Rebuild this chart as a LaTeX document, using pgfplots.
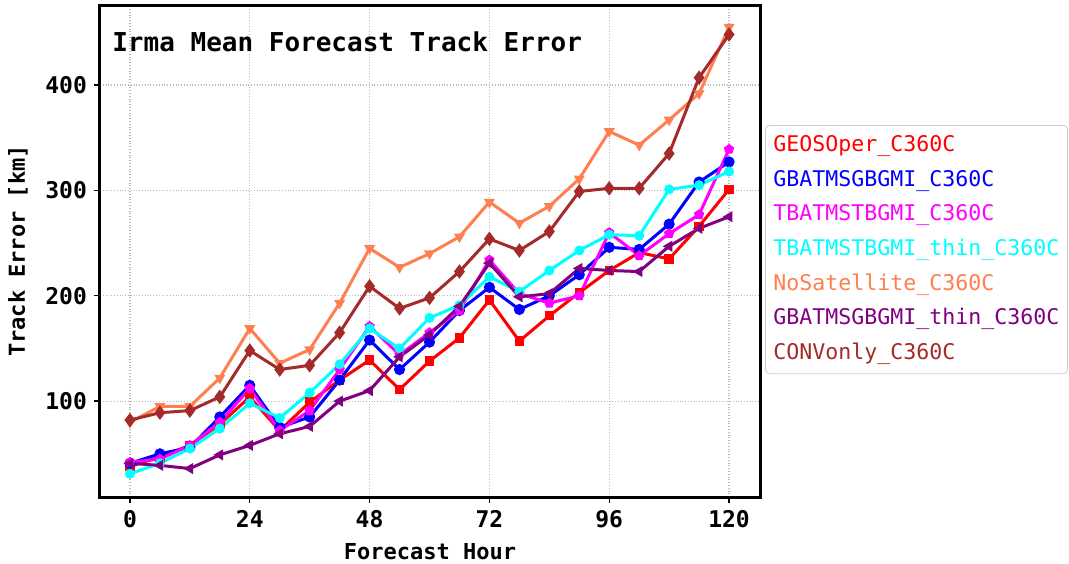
\documentclass[border=0pt]{standalone}
\usepackage{fontspec}
\setmainfont{DejaVu Sans Mono}
\usepackage{pgfplots}
\pgfplotsset{compat=1.18}
\definecolor{cRed}{RGB}{255,0,0}
\definecolor{cBlue}{RGB}{0,0,255}
\definecolor{cMagenta}{RGB}{255,0,255}
\definecolor{cCyan}{RGB}{0,255,255}
\definecolor{cCoral}{RGB}{255,127,80}
\definecolor{cPurple}{RGB}{128,0,128}
\definecolor{cBrown}{RGB}{165,42,42}
\begin{document}
\begin{tikzpicture}
\path[use as bounding box] (-50pt,-33pt) rectangle (484.5pt,248.5pt);
\begin{axis}[
  at={(0,0)}, anchor=south west,
  scale only axis, width=330pt, height=246pt,
  xmin=-6, xmax=126.2, ymin=9, ymax=476,
  xtick={0,24,48,72,96,120}, ytick={100,200,300,400},
  tick align=outside, tick pos=left,
  major tick length=3pt,
  every tick/.style={black, line width=0.7pt},
  axis line style={line width=1.5pt},
  grid=major,
  major grid style={densely dotted, gray!55, line width=0.6pt},
  /pgf/number format/assume math mode=true,
  tick label style={font=\fontsize{11.5}{13}\selectfont\bfseries},
  xlabel={Forecast Hour}, ylabel={Track Error [km]},
  label style={font=\fontsize{11}{13}\selectfont\bfseries},
  xlabel style={yshift=-1pt},
  ylabel style={yshift=2pt},
  legend style={at={(1.0076,0.756)}, anchor=north west, draw=gray!40, rounded corners=2pt,
    font=\fontsize{10.8}{13}\selectfont, row sep=5.35pt,
    nodes={inner ysep=0pt, text height=9pt, text depth=3pt}, inner xsep=2pt, inner ysep=4pt},
  legend cell align=left,
  legend image code/.code={},
  every axis plot/.append style={line width=1.5pt, mark size=1.8pt},
]
\addplot[cRed, mark=square*, mark size=1.6pt] coordinates {(0,38)(6,47)(12,58)(18,78)(24,104)(30,72)(36,99)(42,120)(48,139)(54,111)(60,138)(66,160)(72,196)(78,157)(84,181)(90,203)(96,224)(102,241)(108,235)(114,266)(120,301)};
\addlegendentry{\textcolor{cRed}{GEOSOper\_C360C}}
\addplot[cBlue, mark=*, mark size=2pt] coordinates {(0,41)(6,50)(12,56)(18,85)(24,115)(30,75)(36,85)(42,120)(48,158)(54,130)(60,156)(66,186)(72,208)(78,187)(84,200)(90,220)(96,246)(102,244)(108,268)(114,308)(120,327)};
\addlegendentry{\textcolor{cBlue}{GBATMSGBGMI\_C360C}}
\addplot[cMagenta, mark=pentagon*, mark size=1.8pt] coordinates {(0,42)(6,45)(12,58)(18,80)(24,112)(30,72)(36,91)(42,130)(48,171)(54,144)(60,165)(66,186)(72,234)(78,202)(84,193)(90,200)(96,260)(102,238)(108,259)(114,277)(120,339)};
\addlegendentry{\textcolor{cMagenta}{TBATMSTBGMI\_C360C}}
\addplot[cCyan, mark=*, mark size=1.7pt] coordinates {(0,31)(6,41)(12,55)(18,74)(24,98)(30,84)(36,108)(42,135)(48,169)(54,150)(60,179)(66,191)(72,218)(78,204)(84,224)(90,243)(96,258)(102,257)(108,301)(114,305)(120,318)};
\addlegendentry{\textcolor{cCyan}{TBATMSTBGMI\_thin\_C360C}}
\addplot[cCoral, mark=triangle*, mark options={rotate=180}, mark size=1.7pt] coordinates {(0,80)(6,95)(12,95)(18,122)(24,169)(30,136)(36,149)(42,193)(48,245)(54,227)(60,240)(66,256)(72,289)(78,269)(84,285)(90,311)(96,356)(102,343)(108,367)(114,392)(120,455)};
\addlegendentry{\textcolor{cCoral}{NoSatellite\_C360C}}
\addplot[cPurple, mark=triangle*, mark options={rotate=90}, mark size=1.7pt] coordinates {(0,41)(6,39)(12,36)(18,49)(24,58)(30,69)(36,76)(42,100)(48,110)(54,142)(60,163)(66,190)(72,231)(78,199)(84,202)(90,226)(96,224)(102,223)(108,247)(114,264)(120,275)};
\addlegendentry{\textcolor{cPurple}{GBATMSGBGMI\_thin\_C360C}}
\addplot[cBrown, mark=diamond*, mark size=2.4pt] coordinates {(0,82)(6,89)(12,91)(18,104)(24,148)(30,130)(36,134)(42,165)(48,209)(54,188)(60,198)(66,223)(72,254)(78,243)(84,261)(90,299)(96,302)(102,302)(108,335)(114,407)(120,448)};
\addlegendentry{\textcolor{cBrown}{CONVonly\_C360C}}
\node[anchor=west, font=\fontsize{13}{15}\selectfont\bfseries] at (rel axis cs:0.008,0.925) {Irma Mean Forecast Track Error};
\end{axis}
\end{tikzpicture}
\end{document}
